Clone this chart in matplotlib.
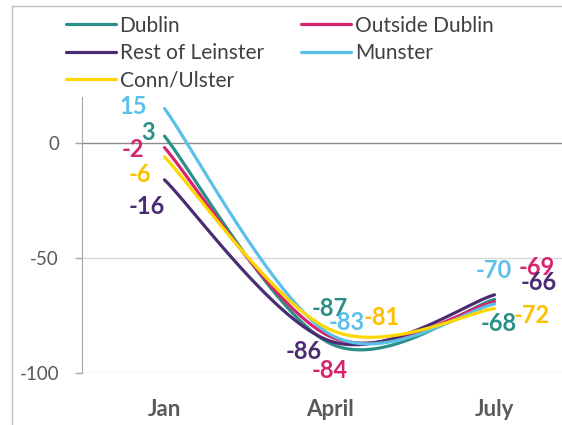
import numpy as np
import matplotlib
matplotlib.use("Agg")
import matplotlib.pyplot as plt
from matplotlib.lines import Line2D

months = ["Jan", "April", "July"]
series = ["Dublin", "Outside Dublin", "Rest of Leinster", "Munster", "Conn/Ulster"]
dublin = [3, -87, -68]
outside_dublin = [-2, -84, -69]
rest_of_leinster = [-16, -86, -66]
munster = [15, -83, -70]
conn_ulster = [-6, -81, -72]
values = [dublin, outside_dublin, rest_of_leinster, munster, conn_ulster]

line_colors = ["#2A9087", "#D6246E", "#4B2C73", "#5BC0E8", "#FFD700"]
label_colors = ["#2A9087", "#D6246E", "#4B2C73", "#5BC0E8", "#FFC000"]

# data label offsets in pixels (dx, dy upwards), one per month
label_offsets = [
    [(-16, 4), (0, 35), (4, -24)],
    [(-32, -2), (0, -34), (42, 34)],
    [(-18, -27), (-26, -11), (44, 12)],
    [(-31, 2), (17, 11), (-1, 34)],
    [(-25, -18), (52, 12), (37, -7)],
]

GREY = "#595959"
plt.rcParams["font.family"] = ["Lato", "DejaVu Sans"]
plt.rcParams["axes.unicode_minus"] = False


def excel_smooth(x, y, n=60):
    """Bezier smoothing like Excel's 'smoothed line' (Catmull-Rom, 1/6 handles)."""
    pts = np.column_stack([x, y]).astype(float)
    pad = np.vstack([pts[0], pts, pts[-1]])
    t = np.linspace(0, 1, n)[:, None]
    out = []
    for i in range(len(pts) - 1):
        p0, p1, p2, p3 = pad[i], pad[i + 1], pad[i + 2], pad[i + 3]
        c1 = p1 + (p2 - p0) / 6.0
        c2 = p2 - (p3 - p1) / 6.0
        seg = ((1 - t) ** 3 * p1 + 3 * (1 - t) ** 2 * t * c1
               + 3 * (1 - t) * t ** 2 * c2 + t ** 3 * p2)
        out.append(seg if i == 0 else seg[1:])
    return np.vstack(out)


fig = plt.figure(figsize=(5.62, 4.25), dpi=100)
ax = fig.add_axes([82 / 562, 52 / 425, 495 / 562, 276 / 425])

xs = np.arange(len(months))
handles = []
for name, vals, lc, tc, offs in zip(series, values, line_colors,
                                    label_colors, label_offsets):
    curve = excel_smooth(xs, vals)
    h, = ax.plot(curve[:, 0], curve[:, 1], color=lc, lw=2.3,
                 solid_capstyle="round", label=name, zorder=3)
    handles.append(h)
    for xi, v, (dx, dy) in zip(xs, vals, offs):
        ax.annotate(f"{v}", (xi, v), xytext=(dx, dy), textcoords="offset pixels",
                    ha="center", va="center", color=tc, fontsize=17,
                    fontweight="bold", zorder=4)

ax.set_xlim(-0.5, 2.5)
ax.set_ylim(-100, 20)
ax.set_yticks([-100, -50, 0])
for gy in (-100, -50):
    ax.axhline(gy, color="#D9D9D9", lw=1, zorder=1)
ax.axhline(0, color="#8C8C8C", lw=1, zorder=2)

for side in ("top", "right", "bottom"):
    ax.spines[side].set_visible(False)
ax.spines["left"].set_color("#A6A6A6")
ax.tick_params(axis="y", colors="#A6A6A6", labelcolor=GREY, length=5,
               width=1, pad=11.5, labelsize=13.5)
ax.set_xticks(xs)
ax.set_xticklabels(months, fontsize=16, fontweight="bold", color=GREY)
ax.tick_params(axis="x", length=0, pad=19)

order = [0, 2, 4, 1, 3]
fig.legend([handles[i] for i in order], [series[i] for i in order],
           loc="upper left", bbox_to_anchor=(51 / 562, 1 - 1 / 425), ncol=2,
           frameon=False, fontsize=15, handlelength=2.4, handletextpad=0.19,
           columnspacing=1.78, labelspacing=0.35, borderpad=0.2,
           labelcolor="#404040")

# outer chart frame (partly cropped)
fig.add_artist(Line2D([12 / 562, 12 / 562], [0, 1 - 6 / 425],
                      transform=fig.transFigure, color="#BFBFBF", lw=1))
fig.add_artist(Line2D([12 / 562, 1], [1 - 6 / 425, 1 - 6 / 425],
                      transform=fig.transFigure, color="#BFBFBF", lw=1))

fig.savefig("out.png", dpi=100)
